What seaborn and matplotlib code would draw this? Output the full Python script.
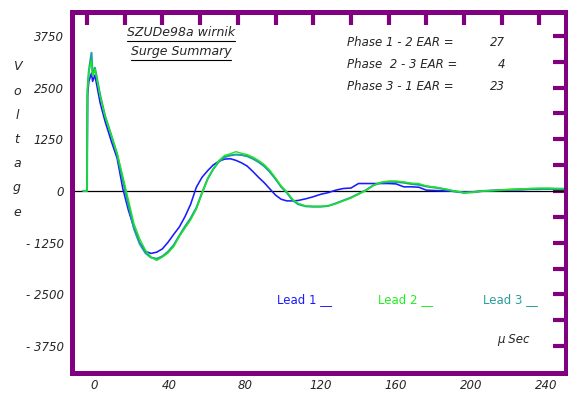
import numpy as np
import pandas as pd
import matplotlib
matplotlib.use("Agg")
import matplotlib.pyplot as plt
from matplotlib.transforms import ScaledTranslation
from matplotlib.lines import Line2D
import seaborn as sns

# Sample times (microseconds) and the three recorded lead voltages
time_us = [-2, 0, 0.3, 1, 2.4, 3, 4.2, 7, 9.5, 13, 16, 19, 22, 25, 28, 31, 34, 37,
           40, 43, 46, 49, 52, 55, 58, 61, 64, 67, 70, 73, 76, 79, 82, 85, 88, 91,
           94, 97, 100, 103, 106, 109, 112, 116, 120, 124, 128, 132, 136, 140, 144,
           148, 152, 156, 160, 164, 168, 172, 176, 180, 185, 190, 195, 200, 205,
           210, 215, 220, 225, 230, 235, 240, 245, 250, 253]

lead1 = [0, 0, 2300, 2650, 2850, 2650, 2800, 2130, 1700, 1190, 790, 60, -470, -900,
         -1260, -1460, -1510, -1480, -1400, -1240, -1050, -870, -620, -320, 90, 330,
         490, 630, 720, 770, 780, 740, 680, 600, 470, 330, 200, 50, -100, -200, -240,
         -240, -230, -190, -140, -80, -40, 20, 60, 70, 180, 180, 180, 180, 180, 170,
         100, 100, 90, 20, 10, 0, -10, -40, -20, 0, 10, 20, 30, 30, 40, 40, 50, 50, 50]

lead2 = [0, 0, 2450, 2900, 3150, 2780, 2950, 2300, 1820, 1340, 920, 360, -220, -800,
         -1160, -1430, -1600, -1680, -1600, -1500, -1350, -1100, -900, -700, -440, -60,
         300, 540, 740, 860, 900, 950, 910, 880, 820, 740, 640, 500, 320, 120, -20,
         -200, -300, -360, -370, -370, -360, -310, -240, -170, -80, 10, 140, 210, 240,
         240, 220, 190, 180, 120, 90, 50, 0, -40, -30, 0, 10, 30, 40, 50, 60, 70, 70,
         60, 60]

lead3 = [0, 0, 2450, 2900, 3340, 2800, 2980, 2320, 1830, 1330, 880, 260, -340, -920,
         -1280, -1500, -1610, -1640, -1580, -1470, -1310, -1080, -860, -660, -410, -50,
         290, 530, 710, 820, 860, 880, 870, 840, 780, 700, 600, 460, 290, 100, -40,
         -220, -320, -370, -380, -380, -360, -300, -230, -160, -70, 20, 140, 200, 220,
         220, 200, 170, 150, 110, 80, 40, -10, -40, -30, 0, 10, 20, 30, 40, 50, 50, 50,
         50, 50]

lead_names = ["Lead 1", "Lead 2", "Lead 3"]
lead_colors = {"Lead 1": "#1a1aff", "Lead 2": "#1ee61e", "Lead 3": "#1f9f9f"}
lead_widths = {"Lead 1": 1.15, "Lead 2": 1.0, "Lead 3": 1.5}
legend_colors = ["#1a1aff", "#22ee22", "#2a9d9d"]
draw_order = ["Lead 1", "Lead 3", "Lead 2"]

x_ticks = list(range(0, 241, 20))
x_labels = [str(v) if v % 40 == 0 else "" for v in x_ticks]
y_ticks = [-3750 + 625 * i for i in range(13)]
y_labels = [("- " + str(-v) if v < 0 else str(v)) if v % 1250 == 0 else "" for v in y_ticks]

phase_rows = [("Phase 1 - 2 EAR =", "27"), ("Phase  2 - 3 EAR =", "4"), ("Phase 3 - 1 EAR =", "23")]

df = pd.DataFrame({
    "t": time_us * 3,
    "v": lead1 + lead2 + lead3,
    "lead": [n for n in lead_names for _ in time_us],
})

sns.set_theme(style="white")
plt.rcParams["font.family"] = ["DejaVu Sans"]

W, H = 568, 394
fig = plt.figure(figsize=(W / 100, H / 100), dpi=100)
ax = fig.add_axes([71.5 / W, 1 - 372.5 / H, (565.5 - 71.5) / W, (372.5 - 11.5) / H])

purple = "#800080"
ax.axhline(0, color="black", lw=0.9, zorder=1)
for name in draw_order:
    sns.lineplot(data=df[df["lead"] == name], x="t", y="v", color=lead_colors[name],
                 estimator=None, sort=False, lw=lead_widths[name], ax=ax, zorder=2)

ax.set_xlim(-8.2, 253.8)
ax.set_ylim(-4390, 4340)
ax.set_xlabel("")
ax.set_ylabel("")

for s in ax.spines.values():
    s.set_color(purple)
    s.set_linewidth(3.6)
    s.set_visible(True)

ax.set_xticks(x_ticks)
ax.set_xticklabels(x_labels, fontstyle="italic", fontsize=8.5)
ax.set_yticks(y_ticks)
ax.set_yticklabels(y_labels, fontstyle="italic", fontsize=8.5)
ax.tick_params(axis="both", which="major", direction="in", length=9.5, width=3,
               color=purple, top=True, right=True, labeltop=False, labelright=False)
ax.tick_params(axis="x", pad=5)
ax.tick_params(axis="y", pad=5.5)

# Shift the time labels a little to the right of their tick marks
shift = ScaledTranslation(7 / 100, 0, fig.dpi_scale_trans)
for lab in ax.get_xticklabels():
    lab.set_transform(lab.get_transform() + shift)

# Vertical axis caption, one letter per row
for i, ch in enumerate("Voltage"):
    fig.text(17 / W, 1 - (67 + 24.2 * i) / H, ch, ha="center", va="center",
             fontstyle="italic", fontsize=9)

# Underlined title block
title_lines = [("SZUDe98a wirnik", 33), ("Surge Summary", 52)]
title_texts = []
for txt, yp in title_lines:
    title_texts.append(fig.text(181 / W, 1 - yp / H, txt, ha="center", va="center",
                                fontstyle="italic", fontsize=9))

for i, (label, num) in enumerate(phase_rows):
    yp = 1 - (43 + 21.5 * i) / H
    fig.text(347 / W, yp, label, ha="left", va="center", fontstyle="italic", fontsize=8.5)
    fig.text(505 / W, yp, num, ha="right", va="center", fontstyle="italic", fontsize=8.5)

for name, col, xp in zip(lead_names, legend_colors, [277, 378, 483]):
    fig.text(xp / W, 1 - 300 / H, name + " __", ha="left", va="center",
             color=col, fontsize=8.5)

fig.text(497 / W, 1 - 340 / H, "μ Sec", ha="left", va="center",
         fontstyle="italic", fontsize=8.5)

fig.canvas.draw()
renderer = fig.canvas.get_renderer()
for t in title_texts:
    bb = t.get_window_extent(renderer=renderer)
    x0, x1 = bb.x0 / W, bb.x1 / W
    yline = (bb.y0 - 1.5) / H
    fig.add_artist(Line2D([x0, x1], [yline, yline], color="black", lw=0.8,
                          transform=fig.transFigure))

fig.savefig("out.png", dpi=100, facecolor="white")
